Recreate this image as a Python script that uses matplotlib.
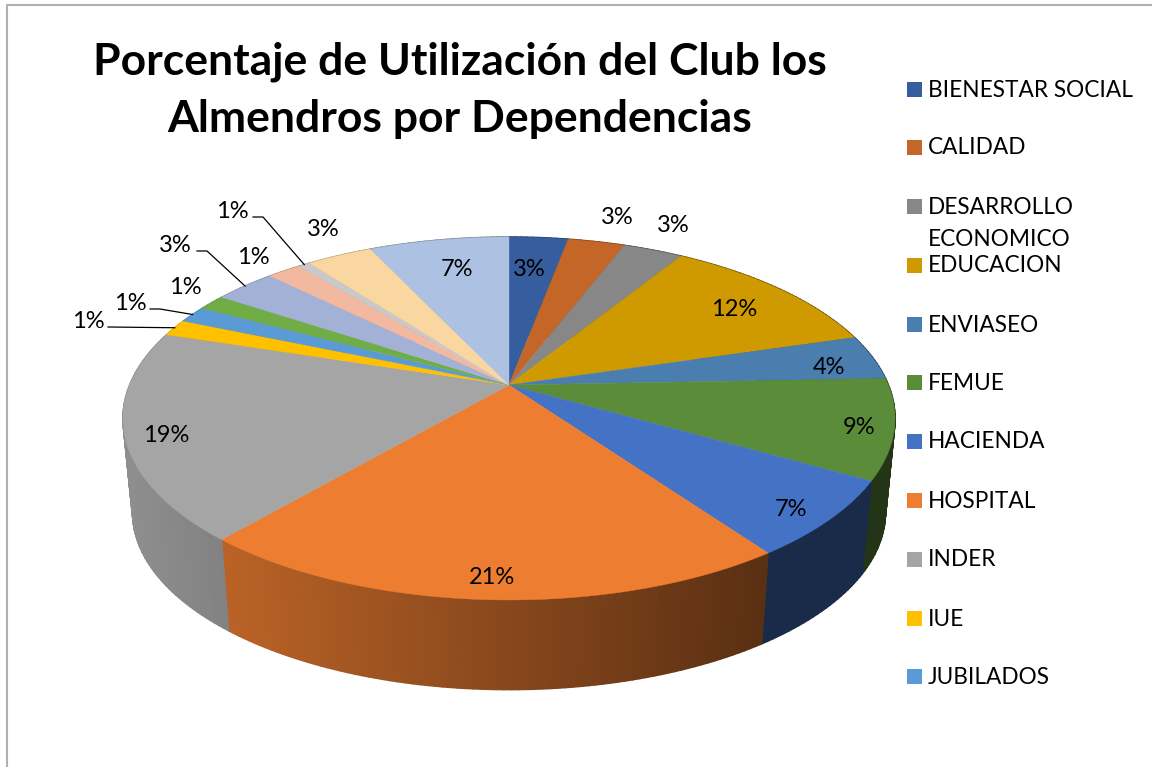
import numpy as np
import matplotlib
matplotlib.use("Agg")
import matplotlib.pyplot as plt
from matplotlib.collections import PolyCollection
from matplotlib.colors import to_rgb
from matplotlib.patches import Rectangle

titulo = "Porcentaje de Utilización del Club los\nAlmendros por Dependencias"

# slices clockwise from 12 o'clock (the legend stops at JUBILADOS)
valores = [2.95, 2.85, 3.0, 11.6, 4.0, 8.9, 6.85, 21.15, 18.6, 1.5, 1.5, 1.4, 3.1, 1.7, 0.6, 3.3, 7.0]
etiquetas = ["3%", "3%", "3%", "12%", "4%", "9%", "7%", "21%", "19%", "1%", "1%", "1%", "3%", "1%", "1%", "3%", "7%"]
colores = ["#365E9F", "#C46628", "#878787", "#CF9900", "#4A7EAF", "#5B8C3A", "#4472C4", "#ED7D31", "#A5A5A5",
           "#FFC000", "#5B9BD5", "#70AD47", "#A4B1D6", "#F2B8A0", "#C9C9C9", "#FAD7A0", "#ADC2E2"]
dependencias = ["BIENESTAR SOCIAL", "CALIDAD", "DESARROLLO", "EDUCACION", "ENVIASEO", "FEMUE",
                "HACIENDA", "HOSPITAL", "INDER", "IUE", "JUBILADOS"]

# pie placement in pixels and the perspective of the tilted disk
cx, cy = 509, 385
rx, ry = 379.4, 175.3
persp = 0.1846
prof, esc = 95, 0.975

# label positions in pixels
pos_etiq = [(529, 270), (617, 218), (673, 226), (734, 310), (829, 367), (859, 428), (791, 510), (492, 578),
            (166, 436), (88, 322), (130, 304), (185, 288), (175, 246), (253, 258), (232, 211), (323, 230), (457, 270)]
lideres = {9: [(108, 327)], 10: [(150, 309), (160, 309)], 12: [(197, 251), (207, 251)], 14: [(253, 217), (263, 217)]}
y_leyenda = [89.5, 147, 206, 265, 324, 382, 441, 500, 559, 618, 676]


def proyecta(theta, base=False):
    x = np.sin(theta)
    y = np.cos(theta)
    w = 1 + persp * y
    px = rx * x / w
    py = ry * y / w
    if base:
        return cx + esc * px, cy + prof - esc * py
    return cx + px, cy - py


def sombra(x):
    return np.clip(0.78 - (x - 231) * 0.00075, 0.38, 0.9)


fig = plt.figure(figsize=(11.52, 7.67), dpi=100)
ax = fig.add_axes([0, 0, 1, 1])
ax.set_xlim(0, 1152)
ax.set_ylim(767, 0)
ax.axis("off")
plt.rcParams["font.family"] = ["Lato", "DejaVu Sans"]

# frame, only top and left show
ax.plot([6.5, 6.5, 1152], [767, 4.5, 4.5], color="#B0B0B0", lw=1.5)

bordes = 2 * np.pi * np.cumsum([0] + valores) / sum(valores)

# side wall first, the top face covers whatever lies behind it
quads = []
tonos = []
for i in range(len(valores)):
    ang = np.linspace(bordes[i], bordes[i + 1], max(int((bordes[i + 1] - bordes[i]) * 60), 2))
    xa, ya = proyecta(ang)
    xb, yb = proyecta(ang, base=True)
    rgb = np.array(to_rgb(colores[i]))
    for j in range(len(ang) - 1):
        quads.append([(xa[j], ya[j]), (xa[j + 1], ya[j + 1]), (xb[j + 1], yb[j + 1]), (xb[j], yb[j])])
        tonos.append(rgb * sombra((xa[j] + xa[j + 1]) / 2))
ax.add_collection(PolyCollection(quads, facecolors=tonos, edgecolors=tonos, linewidths=1.1))

# top face
for i in range(len(valores)):
    ang = np.linspace(bordes[i], bordes[i + 1], 60)
    xa, ya = proyecta(ang)
    ax.fill(np.r_[cx, xa], np.r_[cy, ya], color=colores[i], lw=0.3)

for i, et in enumerate(etiquetas):
    ax.text(pos_etiq[i][0], pos_etiq[i][1], et, ha="center", va="center", fontsize=17, color="black")

# leader lines from the outside labels to the rim of their slice
for i, puntos in lideres.items():
    xr, yr = proyecta((bordes[i] + bordes[i + 1]) / 2)
    xs = [p[0] for p in puntos] + [xr]
    ys = [p[1] for p in puntos] + [yr]
    ax.plot(xs, ys, color="black", lw=0.9)

ax.text(460, 90, titulo, ha="center", va="center", fontsize=32, fontweight="bold", color="black", linespacing=1.53)

# legend
for i, nombre in enumerate(dependencias):
    ax.add_patch(Rectangle((907, y_leyenda[i] - 7.5), 15, 15, color=colores[i], lw=0))
    ax.text(928, y_leyenda[i] + 1, nombre, ha="left", va="center", fontsize=16.3, color="black")
ax.text(928, 240, "ECONOMICO", ha="left", va="center", fontsize=16.3, color="black")

fig.savefig("out.png", dpi=100)
